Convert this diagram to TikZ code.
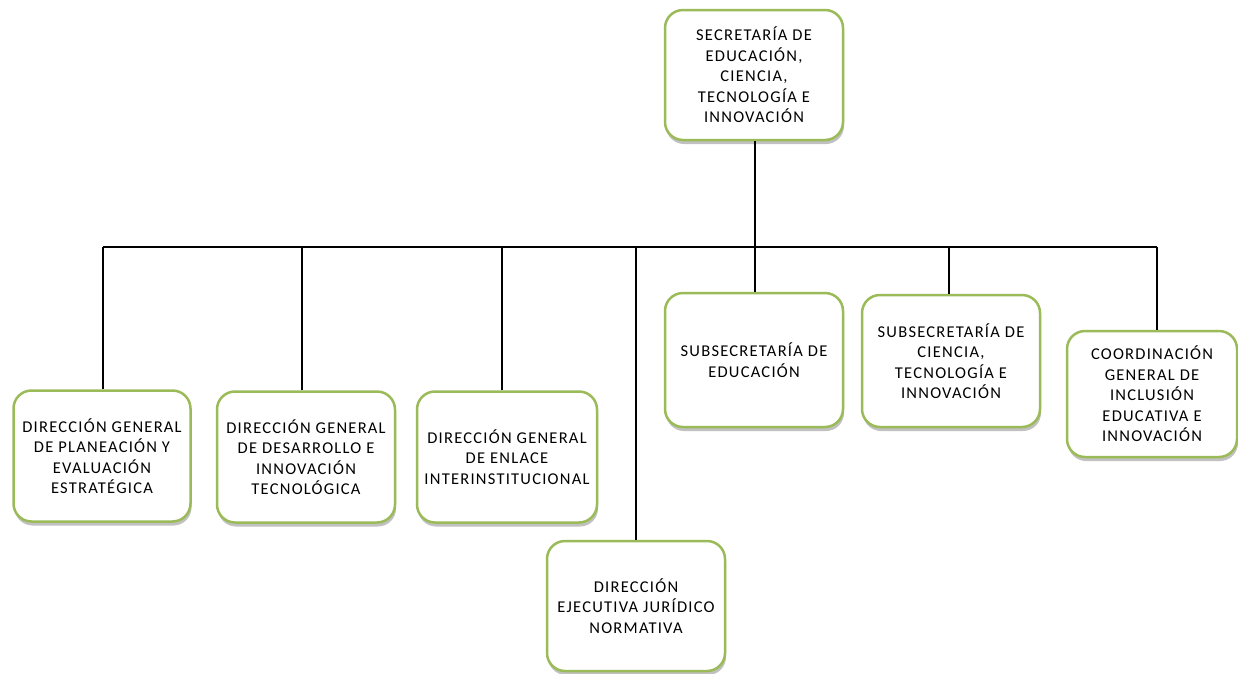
\documentclass[tikz,border=0pt]{standalone}
\usepackage{fontspec}
\setmainfont{Carlito}[LetterSpace=7.5]
\usetikzlibrary{shadows}
\definecolor{boxgreen}{HTML}{9BBB59}
\begin{document}
\begin{tikzpicture}[x=1pt,y=-1pt,
  box/.style={draw=boxgreen, line width=2.5pt, rounded corners=18pt, fill=white,
    minimum width=178pt, minimum height=130pt, align=center, inner sep=0pt,
    font=\fontsize{16.5}{20.5}\selectfont,
    drop shadow={shadow xshift=1pt, shadow yshift=-4pt, opacity=0.35, fill=black!70}},
  link/.style={line width=2.5pt}]
\useasboundingbox (0,0) rectangle (1238,673);

\node[box] (top) at (754,75) {SECRETARÍA DE\\EDUCACIÓN,\\CIENCIA,\\TECNOLOGÍA E\\INNOVACIÓN};
\node[box, minimum width=177pt, minimum height=131pt] (b1) at (102,456) {DIRECCIÓN GENERAL\\DE PLANEACIÓN Y\\EVALUACIÓN\\ESTRATÉGICA};
\node[box, minimum height=131pt] (b2) at (306,457) {DIRECCIÓN GENERAL\\DE DESARROLLO E\\INNOVACIÓN\\TECNOLÓGICA};
\node[box, minimum width=180pt, minimum height=131pt] (b3) at (507,457) {DIRECCIÓN GENERAL\\DE ENLACE\\INTERINSTITUCIONAL};
\node[box] (b4) at (636,606) {DIRECCIÓN\\EJECUTIVA JURÍDICO\\NORMATIVA};
\node[box, minimum height=134pt] (b5) at (754,360) {SUBSECRETARÍA DE\\EDUCACIÓN};
\node[box, minimum height=132pt] (b6) at (951,361) {SUBSECRETARÍA DE\\CIENCIA,\\TECNOLOGÍA E\\INNOVACIÓN};
\node[box, minimum width=170pt, minimum height=126pt] (b7) at (1152,394) {COORDINACIÓN\\GENERAL DE\\INCLUSIÓN\\EDUCATIVA E\\INNOVACIÓN};

\coordinate (j0) at (755,247);
\coordinate (j1) at (103,247);
\coordinate (j2) at (302,247);
\coordinate (j3) at (502,247);
\coordinate (j4) at (636,247);
\coordinate (j6) at (949,247);
\coordinate (j7) at (1157,247);

\draw[link] (top.south -| j0) -- (j0);
\draw[link] (j1) -- (j7);
\draw[link] (j1) -- (j1 |- b1.north);
\draw[link] (j2) -- (j2 |- b2.north);
\draw[link] (j3) -- (j3 |- b3.north);
\draw[link] (j4) -- (j4 |- b4.north);
\draw[link] (j0) -- (j0 |- b5.north);
\draw[link] (j6) -- (j6 |- b6.north);
\draw[link] (j7) -- (j7 |- b7.north);
\end{tikzpicture}
\end{document}
